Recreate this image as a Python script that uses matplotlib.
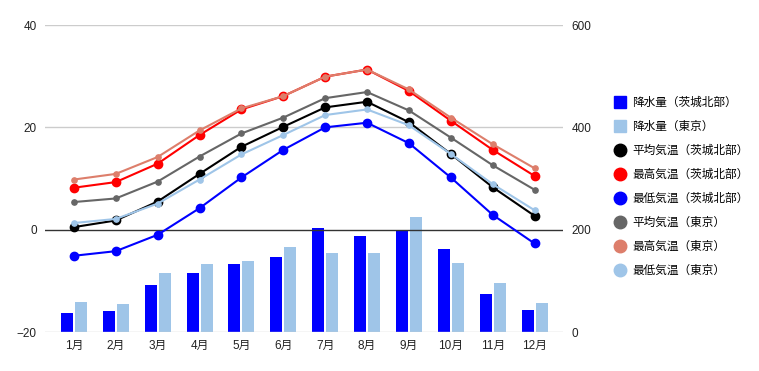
# 茨城北部と東京の気温・降水量グラフ
import matplotlib
matplotlib.use("Agg")
import matplotlib.pyplot as plt
from matplotlib.lines import Line2D
import numpy as np

plt.rcParams['font.family'] = ['Liberation Sans', 'Noto Sans CJK JP', 'DejaVu Sans']

months = ['1月', '2月', '3月', '4月', '5月', '6月', '7月', '8月', '9月', '10月', '11月', '12月']

# 降水量 (mm)
rain_ibaraki = [36.5, 40.4, 91.2, 114.7, 132, 146, 202.7, 187, 197.5, 162, 74.3, 43]
rain_tokyo = [58, 54.7, 114.7, 132, 138, 165.6, 153.8, 153.8, 224, 134, 95, 56]

# 気温 (℃)
avg_ibaraki = [0.5, 1.8, 5.5, 10.9, 16.2, 20.1, 23.9, 25.0, 21.0, 14.8, 8.3, 2.7]
max_ibaraki = [8.2, 9.3, 12.9, 18.5, 23.5, 26.1, 29.9, 31.3, 27.1, 21.3, 15.6, 10.5]
min_ibaraki = [-5.1, -4.2, -1.0, 4.2, 10.2, 15.6, 20.0, 20.9, 16.9, 10.2, 2.9, -2.7]
avg_tokyo = [5.4, 6.1, 9.4, 14.3, 18.8, 21.9, 25.7, 26.9, 23.3, 18.0, 12.6, 7.8]
max_tokyo = [9.8, 10.9, 14.2, 19.4, 23.7, 26.1, 29.9, 31.3, 27.4, 21.9, 16.7, 12.0]
min_tokyo = [1.3, 2.1, 5.1, 9.8, 14.7, 18.5, 22.4, 23.5, 20.4, 14.8, 8.9, 3.8]

c_blue = '#0000ff'
c_lblue = '#9fc5e8'
c_black = '#000000'
c_red = '#ff0000'
c_gray = '#666666'
c_salmon = '#dd7e6b'

x = np.arange(len(months))

fig = plt.figure(figsize=(7.59, 3.71), dpi=100)
ax = fig.add_axes([0.0593, 0.1051, 0.6825, 0.8275])
ax2 = ax.twinx()
ax.set_zorder(2)
ax.patch.set_visible(False)

# bars (right axis)
w = 0.287
ax2.bar(x - 0.167, rain_ibaraki, width=w, color=c_blue, label='降水量（茨城北部）')
ax2.bar(x + 0.167, rain_tokyo, width=w, color=c_lblue, label='降水量（東京）')
ax2.set_ylim(0, 600)
ax2.set_yticks([0, 200, 400, 600])

# lines (left axis)
big = dict(marker='o', markersize=6, linewidth=1.5)
small = dict(marker='o', markersize=3.8, linewidth=1.5)
ax.plot(x, avg_ibaraki, color=c_black, **big)
ax.plot(x, max_ibaraki, color=c_red, **big)
ax.plot(x, min_ibaraki, color=c_blue, **big)
ax.plot(x, avg_tokyo, color=c_gray, **small)
ax.plot(x, max_tokyo, color=c_salmon, **small)
ax.plot(x, min_tokyo, color=c_lblue, **small)

ax.set_ylim(-20, 40)
ax.set_yticks([-20, 0, 20, 40])
ax.set_xlim(-0.69, 11.68)
ax.set_xticks(x)
ax.set_xticklabels(months)

for y in [-20, 20, 40]:
    ax.axhline(y, color='#cccccc', linewidth=1, zorder=0)
ax.axhline(0, color='#333333', linewidth=1, zorder=1)

for a in (ax, ax2):
    for s in a.spines.values():
        s.set_visible(False)
    a.tick_params(length=0, labelsize=8.5, colors='#222222')
ax.tick_params(axis='y', pad=6)
ax2.tick_params(axis='y', pad=6)
ax.tick_params(axis='x', pad=6)

# legend
handles = [
    Line2D([], [], linestyle='none', marker='s', markersize=9, color=c_blue),
    Line2D([], [], linestyle='none', marker='s', markersize=9, color=c_lblue),
    Line2D([], [], linestyle='none', marker='o', markersize=9, color=c_black),
    Line2D([], [], linestyle='none', marker='o', markersize=9, color=c_red),
    Line2D([], [], linestyle='none', marker='o', markersize=9, color=c_blue),
    Line2D([], [], linestyle='none', marker='o', markersize=9, color=c_gray),
    Line2D([], [], linestyle='none', marker='o', markersize=9, color=c_salmon),
    Line2D([], [], linestyle='none', marker='o', markersize=9, color=c_lblue),
]
labels = ['降水量（茨城北部）', '降水量（東京）', '平均気温（茨城北部）', '最高気温（茨城北部）',
          '最低気温（茨城北部）', '平均気温（東京）', '最高気温（東京）', '最低気温（東京）']
fig.legend(handles, labels, loc='upper left', bbox_to_anchor=(0.803, 0.751),
           frameon=False, fontsize=8.4, labelspacing=1.03, handlelength=1.0,
           handletextpad=0.55, borderaxespad=0)

fig.savefig('out.png', dpi=100)
